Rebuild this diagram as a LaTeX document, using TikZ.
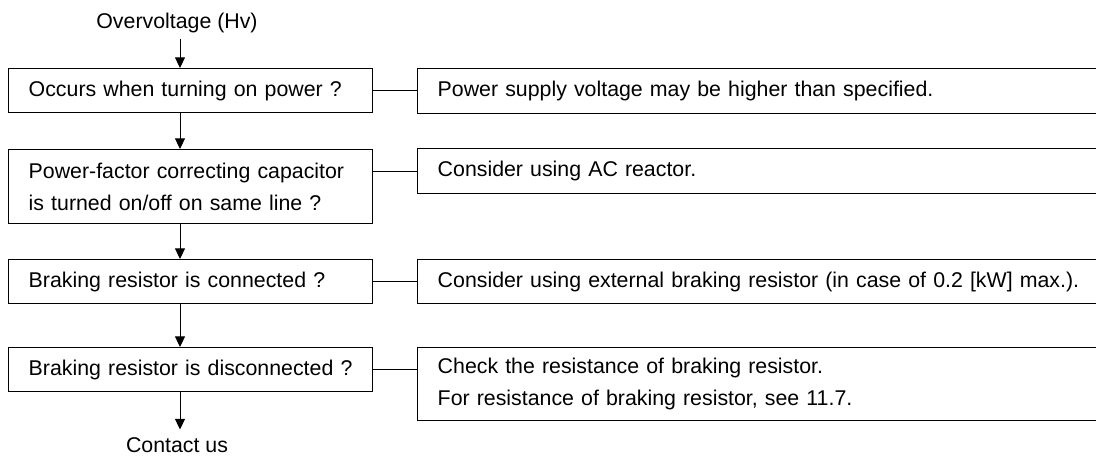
\documentclass[tikz,border=0pt]{standalone}
\usepackage{fontspec}
\setmainfont{Liberation Sans}
\usetikzlibrary{arrows.meta}

\begin{document}
\begin{tikzpicture}[x=0.75pt, y=-0.75pt, font=\fontsize{16}{24}\selectfont,
        qbox/.style={draw, rectangle, line width=1.1pt, anchor=north west, align=left,
            text width=243pt, inner xsep=15pt, inner ysep=0pt, minimum height=33pt},
        abox/.style={qbox, text width=489.75pt},
        flow/.style={-{Triangle[length=8pt, width=7.5pt]}, line width=0.75pt},
        link/.style={line width=0.75pt}]
        \useasboundingbox (0,0) rectangle (1096,455);
        \clip (0,0) rectangle (1096,455);
        \coordinate (spine) at (180,0);

        \node (ov) at (177,28) [anchor=base, inner xsep=0pt, inner ysep=4.5pt] {Overvoltage (Hv)};

        \node (q1) at (8,68)  [qbox] {Occurs when turning on power ?};
        \node (q2) at (8,149) [qbox, minimum height=55.5pt] {Power-factor correcting capacitor\\is turned on/off on same line ?};
        \node (q3) at (8,259) [qbox] {Braking resistor is connected ?};
        \node (q4) at (8,347) [qbox] {Braking resistor is disconnected ?};

        \node (a1) at (417,68)  [abox, minimum height=33.75pt] {Power supply voltage may be higher than specified.};
        \node (a2) at (417,148) [abox, minimum height=33.75pt] {Consider using AC reactor.};
        \node (a3) at (417,259) [abox] {Consider using external braking resistor (in case of 0.2 [kW] max.).};
        \node (a4) at (417,347) [abox, minimum height=54.75pt] {Check the resistance of braking resistor.\\For resistance of braking resistor, see 11.7.};

        \node (cu) at (177,452) [anchor=base, inner xsep=0pt, inner ysep=5.5pt] {Contact us};

        \draw[flow] (ov.south -| spine) -- (q1.north -| spine);
        \draw[flow] (q1.south -| spine) -- (q2.north -| spine);
        \draw[flow] (q2.south -| spine) -- (q3.north -| spine);
        \draw[flow] (q3.south -| spine) -- (q4.north -| spine);
        \draw[flow] (q4.south -| spine) -- (cu.north -| spine);

        \draw[link] (q1.east) -- (q1.east -| a1.west);
        \draw[link] (q2.east |- a2.west) -- (a2.west);
        \draw[link] (q3.east) -- (a3.west);
        \draw[link] (q4.east) -- (q4.east -| a4.west);
    \end{tikzpicture}
\end{document}
